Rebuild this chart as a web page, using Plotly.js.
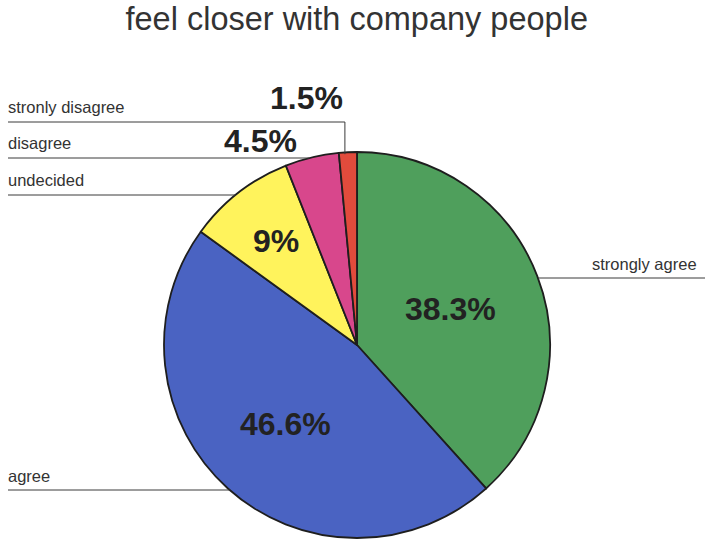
<!DOCTYPE html>
<html>
<head>
<meta charset="utf-8">
<script src="https://cdn.plot.ly/plotly-3.0.1.min.js"></script>
<style>html,body{margin:0;padding:0;background:#fff}#chart{width:705px;height:540px}</style>
</head>
<body>
<div id="chart"></div>
<script>
// ---- data ----
var categories = ["strongly agree", "agree", "undecided", "disagree", "stronly disagree"];
var values = [38.3, 46.6, 9, 4.5, 1.5];
var colors = ["#4f9f5c", "#4a63c2", "#fff35c", "#d8478c", "#e24b3c"];

// ---- geometry (pixels) ----
var W = 705, H = 540;
var cx = 357, cy = 345, R = 193;
var total = values.reduce(function(a,b){return a+b;}, 0);

function px(x){ return x / W; }
function py(y){ return 1 - y / H; }

// slice mid angles (clockwise from 12 o'clock)
var mids = [], acc = 0;
values.forEach(function(v){ mids.push((acc + v/2) / total * 2*Math.PI); acc += v; });
function edge(i, f){ return [cx + f*R*Math.sin(mids[i]), cy - f*R*Math.cos(mids[i])]; }
function edgeX(y, side){ var dy = y - cy; var dx = Math.sqrt(Math.max(0, R*R - dy*dy)); return cx + side*dx; }

var annotations = [];
var shapes = [];
var lineStyle = {color: "#3a3a3a", width: 1};
var labFont = {family: "Liberation Sans, Arial, sans-serif", size: 16.5, color: "#333"};
var pctFont = {family: "Liberation Sans, Arial, sans-serif", size: 32, color: "#222", weight: "bold"};

// inside percent labels
var insideFactor = {0: 0.52, 1: 0.55, 2: 0.68};
[0,1,2].forEach(function(i){
  var p = edge(i, insideFactor[i]);
  annotations.push({xref:"paper", yref:"paper", x:px(p[0]), y:py(p[1]), text:"<b>"+values[i]+"%</b>",
    showarrow:false, font:pctFont, xanchor:"center", yanchor:"middle"});
});

var LX = 6;
// strongly agree (right)
var ySA = 278;
shapes.push({type:"line", xref:"paper", yref:"paper", x0:px(edgeX(ySA, 1)), y0:py(ySA), x1:px(705), y1:py(ySA), line:lineStyle});
annotations.push({xref:"paper", yref:"paper", x:px(699), y:py(ySA-14), text:categories[0], showarrow:false, font:labFont, xanchor:"right", yanchor:"middle"});
// agree
var yA = 490;
shapes.push({type:"line", xref:"paper", yref:"paper", x0:px(8), y0:py(yA), x1:px(edgeX(yA, -1)), y1:py(yA), line:lineStyle});
annotations.push({xref:"paper", yref:"paper", x:px(LX), y:py(yA-14), text:categories[1], showarrow:false, font:labFont, xanchor:"left", yanchor:"middle"});
// undecided
var yU = 195;
shapes.push({type:"line", xref:"paper", yref:"paper", x0:px(8), y0:py(yU), x1:px(edgeX(yU, -1)), y1:py(yU), line:lineStyle});
annotations.push({xref:"paper", yref:"paper", x:px(LX), y:py(yU-15), text:categories[2], showarrow:false, font:labFont, xanchor:"left", yanchor:"middle"});
// disagree
var yD = 158;
shapes.push({type:"line", xref:"paper", yref:"paper", x0:px(8), y0:py(yD), x1:px(edgeX(yD, -1)), y1:py(yD), line:lineStyle});
annotations.push({xref:"paper", yref:"paper", x:px(LX), y:py(yD-15), text:categories[3], showarrow:false, font:labFont, xanchor:"left", yanchor:"middle"});
annotations.push({xref:"paper", yref:"paper", x:px(260), y:py(yD-17), text:"<b>"+values[3]+"%</b>", showarrow:false, font:pctFont, xanchor:"center", yanchor:"middle"});
// strongly disagree
var ySD = 122;
var pSD = edge(4, 1);
shapes.push({type:"line", xref:"paper", yref:"paper", x0:px(8), y0:py(ySD), x1:px(pSD[0]-3), y1:py(ySD), line:lineStyle});
shapes.push({type:"line", xref:"paper", yref:"paper", x0:px(pSD[0]-3), y0:py(ySD), x1:px(pSD[0]-3), y1:py(pSD[1]+2), line:lineStyle});
annotations.push({xref:"paper", yref:"paper", x:px(LX), y:py(ySD-15), text:categories[4], showarrow:false, font:labFont, xanchor:"left", yanchor:"middle"});
annotations.push({xref:"paper", yref:"paper", x:px(306), y:py(ySD-24), text:"<b>"+values[4]+"%</b>", showarrow:false, font:pctFont, xanchor:"center", yanchor:"middle"});

var trace = {
  type: "pie",
  labels: categories,
  values: values,
  sort: false,
  direction: "clockwise",
  rotation: 0,
  textinfo: "none",
  hoverinfo: "label+percent",
  marker: {colors: colors, line: {color: "#1e1e1e", width: 1.8}},
  domain: {x: [px(cx - R), px(cx + R)], y: [py(cy + R), py(cy - R)]},
  showlegend: false
};

var layout = {
  width: W, height: H,
  margin: {l:0, r:0, t:0, b:0},
  paper_bgcolor: "#fff",
  title: {text: "feel closer with company people", x: 0.506, xanchor: "center", y: 1 - 19/H, yanchor: "middle", yref: "container",
          font: {family: "Liberation Sans, Arial, sans-serif", size: 32.5, color: "#333"}},
  shapes: shapes,
  annotations: annotations,
  showlegend: false
};

Plotly.newPlot("chart", [trace], layout, {displayModeBar: false, staticPlot: true});
</script>
</body>
</html>
